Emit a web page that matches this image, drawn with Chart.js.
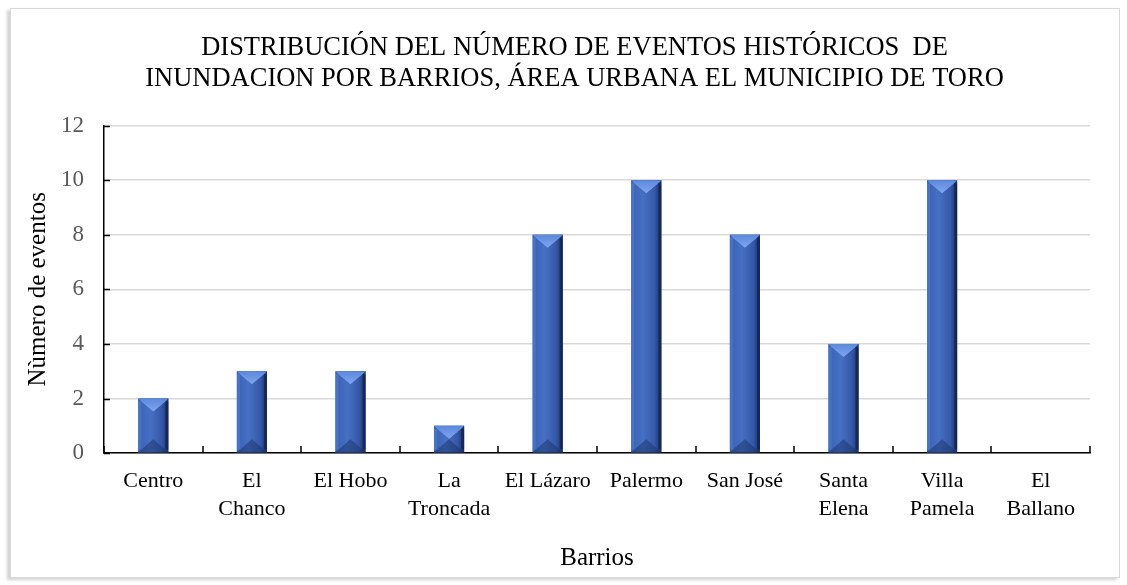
<!DOCTYPE html>
<html>
<head>
<meta charset="utf-8">
<script src="https://cdn.jsdelivr.net/npm/chart.js@4.4.0/dist/chart.umd.min.js"></script>
<style>
  html, body { margin: 0; padding: 0; background: #fff; }
  #frame {
    position: absolute; left: 10px; top: 8px; width: 1108px; height: 568px;
    border: 1px solid #d9d9d9; box-shadow: -3px 2px 3px rgba(0,0,0,0.18);
  }
  #wrap { position: absolute; left: 0; top: 0; width: 1127px; height: 585px; }
</style>
</head>
<body>
<div id="frame"></div>
<div id="wrap"><canvas id="chart" width="1127" height="585"></canvas></div>
<script>
// data
const barrios = ["Centro", ["El", "Chanco"], "El Hobo", ["La", "Troncada"], "El Lázaro",
  "Palermo", "San José", ["Santa", "Elena"], ["Villa", "Pamela"], ["El", "Ballano"]];
const eventos = [2, 3, 3, 1, 8, 10, 8, 4, 10, 0];
const titulo = ["DISTRIBUCIÓN DEL NÚMERO DE EVENTOS HISTÓRICOS  DE",
  "INUNDACION POR BARRIOS, ÁREA URBANA EL MUNICIPIO DE TORO"];

const serif = "'Liberation Serif', 'Times New Roman', serif";

// bevelled look of the bars, drawn over each bar element
const bevel = {
  id: "bevel",
  afterDatasetsDraw(chart) {
    const ctx = chart.ctx;
    chart.getDatasetMeta(0).data.forEach(bar => {
      const w = bar.width, l = bar.x - w / 2, r = bar.x + w / 2;
      const t = bar.y, b = bar.base;
      const h = b - t;
      if (h <= 0) return;
      const d = Math.min(13, h / 2);
      ctx.save();
      let g = ctx.createLinearGradient(l, 0, r, 0);
      g.addColorStop(0, "#3a62b4");
      g.addColorStop(0.4, "#4670c4");
      g.addColorStop(0.78, "#3558a8");
      g.addColorStop(1, "#1b3060");
      ctx.fillStyle = g;
      ctx.fillRect(l, t, w, h);
      // top bevel
      ctx.beginPath();
      ctx.moveTo(l, t); ctx.lineTo(r, t); ctx.lineTo(r - 3, t + 3); ctx.lineTo(bar.x, t + d); ctx.lineTo(l + 3, t + 3); ctx.closePath();
      let gt = ctx.createLinearGradient(0, t, 0, t + d);
      gt.addColorStop(0, "#5d88da");
      gt.addColorStop(1, "#7ea6f0");
      ctx.fillStyle = gt;
      ctx.fill();
      // bottom bevel
      ctx.beginPath();
      ctx.moveTo(l, b); ctx.lineTo(r, b); ctx.lineTo(bar.x, b - d); ctx.closePath();
      ctx.fillStyle = "rgba(25,45,95,0.45)";
      ctx.fill();
      // side strips
      ctx.fillStyle = "rgba(110,150,225,0.3)";
      ctx.fillRect(l, t + 3, 3, h - 6);
      ctx.fillStyle = "rgba(10,20,50,0.45)";
      ctx.fillRect(r - 3, t + 3, 3, h - 6);
      ctx.restore();
    });
  }
};

// short black tick marks pointing into the plot area
const innerTicks = {
  id: "innerTicks",
  afterDraw(chart) {
    const ctx = chart.ctx, area = chart.chartArea;
    const xs = chart.scales.x, ys = chart.scales.y;
    ctx.save();
    ctx.strokeStyle = "#000";
    ctx.lineWidth = 1.5;
    ctx.beginPath();
    ys.ticks.forEach((tk, i) => {
      const py = Math.round(ys.getPixelForTick(i)) + 0.5;
      ctx.moveTo(area.left, py); ctx.lineTo(area.left + 6, py);
    });
    for (let i = 0; i <= barrios.length; i++) {
      const px = Math.round(xs.getPixelForValue(i - 0.5));
      ctx.moveTo(px, area.bottom); ctx.lineTo(px, area.bottom - 7);
    }
    ctx.stroke();
    ctx.restore();
  }
};

new Chart(document.getElementById("chart"), {
  type: "bar",
  data: {
    labels: barrios,
    datasets: [{
      data: eventos,
      backgroundColor: "#3b64b8",
      barPercentage: 0.305,
      categoryPercentage: 1
    }]
  },
  options: {
    responsive: false,
    animation: false,
    layout: { padding: { left: 22, right: 0, top: 24, bottom: 12 } },
    plugins: {
      legend: { display: false },
      tooltip: { enabled: false },
      title: {
        display: true,
        text: titulo,
        color: "#000",
        font: { family: serif, size: 26.5, weight: "normal", lineHeight: 1.18 },
        padding: { top: 8, bottom: 31 }
      }
    },
    scales: {
      x: {
        grid: { display: false },
        border: { color: "#000", width: 1.5 },
        ticks: { color: "#000", font: { family: serif, size: 22, lineHeight: 1.27 }, maxRotation: 0, autoSkip: false, padding: 6 },
        title: { display: true, text: "Barrios", color: "#000", font: { family: serif, size: 25, lineHeight: 1.2 }, padding: { top: 14, bottom: 0 } }
      },
      y: {
        min: 0, max: 12,
        afterFit(s) { s.width = 82; },
        grid: { color: "#d9d9d9", lineWidth: 1.5, drawTicks: false },
        border: { color: "#000", width: 1.5 },
        ticks: { stepSize: 2, color: "#595959", font: { family: serif, size: 23 }, padding: 20 },
        title: { display: true, text: "Nùmero de eventos", color: "#000", font: { family: serif, size: 25, lineHeight: 1.2 }, padding: { top: 1, bottom: 0 } }
      },
      yR: {
        position: "right",
        afterFit(s) { s.width = 37; },
        grid: { display: false },
        border: { display: false },
        ticks: { display: false }
      }
    }
  },
  plugins: [bevel, innerTicks]
});
</script>
</body>
</html>
